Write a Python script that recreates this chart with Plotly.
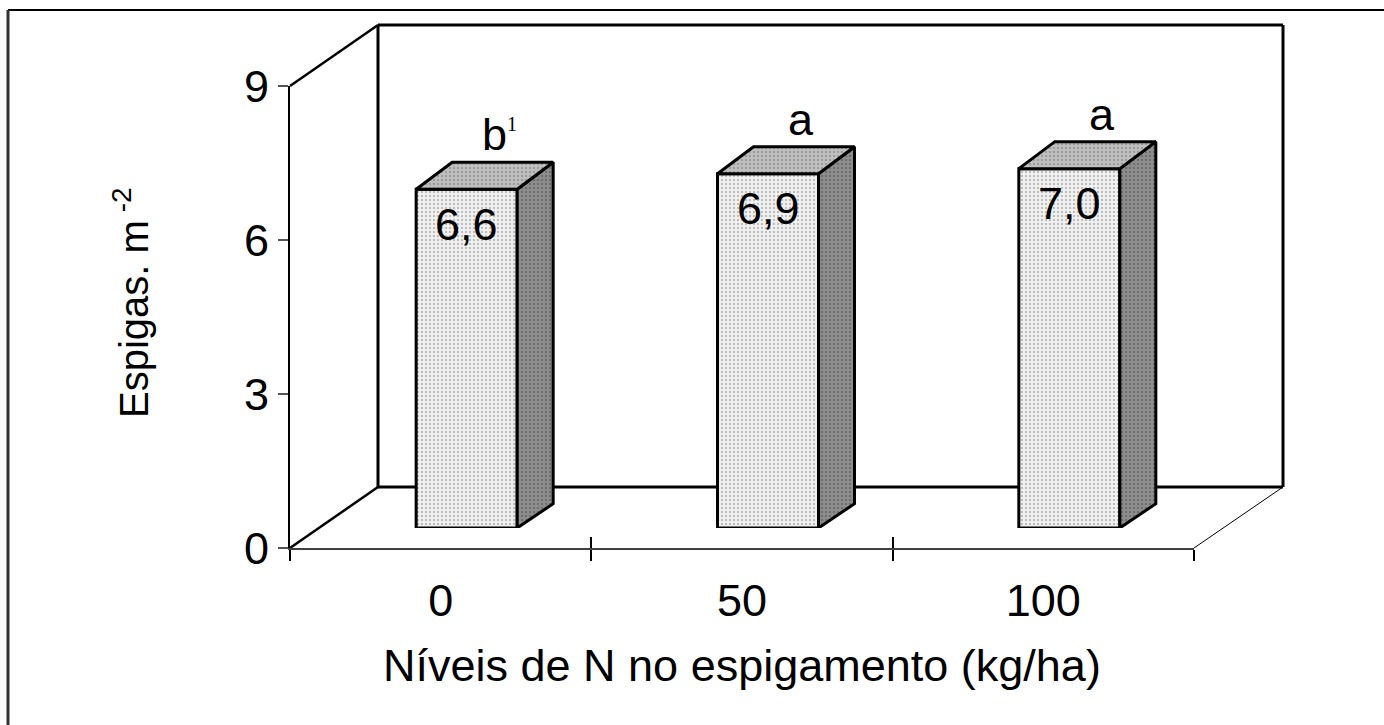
import plotly.graph_objects as go

# ---- data ----
categories = ["0", "50", "100"]
values = [6.6, 6.9, 7.0]
value_labels = ["6,6", "6,9", "7,0"]
letters = ["b<sup><span style='font-size:20px;font-family:Liberation Serif'>1</span></sup>", "a", "a"]
y_ticks = [0, 3, 6, 9]
x_title = "Níveis de N no espigamento (kg/ha)"
y_title = "Espigas. m<sup> -2</sup>"

# ---- geometry (pixels of the plotting region) ----
W, H = 1384, 725
L, R, T, B = 290, 1283, 25, 548
PW, PH = R - L, B - T


def px(x):
    return (x - L) / PW


def py(y):
    return (B - y) / PH


front_right = 1194
front_top = 86
wall_left = 378
wall_bottom = 487
bar_off_x, bar_off_y = 26, 20       # bar front plane offset (px)
side_dx_px, side_dy_px = 36, 27     # bar depth (px)

pos = list(range(len(categories)))
xrange_ = [-0.5, len(categories) - 0.5]
yrange_ = [0, 9]
px_per_x = (front_right - L) / (xrange_[1] - xrange_[0])
px_per_y = (B - front_top) / (yrange_[1] - yrange_[0])
bar_w = 101 / px_per_x
ddx = side_dx_px / px_per_x
ddy = side_dy_px / px_per_y
boundaries = [p - 0.5 for p in pos] + [pos[-1] + 0.5]

FONT = "Liberation Sans, Arial, sans-serif"
FS = 45

fig = go.Figure()

# invisible traces so that the front axes exist
fig.add_trace(go.Scatter(x=[0], y=[0], xaxis="x", yaxis="y", mode="markers",
                         marker=dict(opacity=0), hoverinfo="skip", showlegend=False))
fig.add_trace(go.Scatter(x=[0], y=[0], xaxis="x3", yaxis="y", mode="markers",
                         marker=dict(opacity=0), hoverinfo="skip", showlegend=False))

fig.add_trace(go.Bar(
    x=pos, y=values, width=bar_w, xaxis="x2", yaxis="y2",
    marker=dict(color="#e6e6e6", line=dict(color="black", width=3),
                pattern=dict(shape=".", fgcolor="#8a8a8a", bgcolor="#f2f2f2",
                             size=4, solidity=0.3)),
    hoverinfo="skip", showlegend=False,
))

for i, v in zip(pos, values):
    xl, xr = i - bar_w / 2, i + bar_w / 2
    # side face
    fig.add_trace(go.Scatter(
        x=[xr, xr + ddx, xr + ddx, xr, xr],
        y=[0, ddy * 0.9, v + ddy, v, 0],
        fill="toself", mode="lines", xaxis="x2", yaxis="y2",
        line=dict(color="black", width=3),
        fillcolor="#7c7c7c",
        fillpattern=dict(shape=".", fgcolor="#505050", bgcolor="#8e8e8e",
                         size=4, solidity=0.3),
        hoverinfo="skip", showlegend=False,
    ))
    # top face
    fig.add_trace(go.Scatter(
        x=[xl, xr, xr + ddx, xl + ddx, xl],
        y=[v, v, v + ddy, v + ddy, v],
        fill="toself", mode="lines", xaxis="x2", yaxis="y2",
        line=dict(color="black", width=3),
        fillcolor="#ababab",
        fillpattern=dict(shape=".", fgcolor="#7a7a7a", bgcolor="#c0c0c0",
                         size=4, solidity=0.3),
        hoverinfo="skip", showlegend=False,
    ))

annotations = []
for i, v, t in zip(pos, values, value_labels):
    annotations.append(dict(x=i, y=v, xref="x2", yref="y2", text=t, showarrow=False,
                            yanchor="middle", yshift=-35,
                            font=dict(family=FONT, size=FS, color="black")))
for i, v, t in zip(pos, values, letters):
    annotations.append(dict(x=i + 0.11, y=v + ddy, xref="x2", yref="y2", text=t,
                            showarrow=False, yanchor="bottom", yshift=0,
                            font=dict(family=FONT, size=FS, color="black")))
annotations.append(dict(x=0.5, xref="x domain", y=py(665), yref="paper", text=x_title,
                        showarrow=False, yanchor="middle",
                        font=dict(family=FONT, size=FS, color="black")))
annotations.append(dict(x=px(131), xref="paper", y=py(303), yref="paper", text=y_title,
                        showarrow=False, textangle=-90, xanchor="center", yanchor="middle",
                        font=dict(family=FONT, size=40, color="black")))

shapes = []
wl, wb = px(wall_left), py(wall_bottom)
ft = py(front_top)
fr = px(front_right)
for (x0, y0, x1, y1, w) in [
    (wl, wb, wl, 1, 3), (wl, 1, 1, 1, 3), (1, 1, 1, wb, 3), (wl, wb, 1, wb, 3),
    (0, ft, wl, 1, 2.5), (0, 0, wl, wb, 2.5), (fr, 0, 1, wb, 1),
]:
    shapes.append(dict(type="line", xref="paper", yref="paper", x0=x0, y0=y0, x1=x1, y1=y1,
                       line=dict(color="black", width=w), layer="below"))
# outer frame (top and left)
shapes.append(dict(type="line", xref="paper", yref="paper", x0=px(8), y0=py(10), x1=px(1384),
                   y1=py(10), line=dict(color="black", width=2)))
shapes.append(dict(type="line", xref="paper", yref="paper", x0=px(8), y0=py(10), x1=px(8),
                   y1=py(725), line=dict(color="#333333", width=3)))

fig.update_layout(
    width=W, height=H,
    margin=dict(l=L, r=W - R, t=T, b=H - B, pad=0, autoexpand=False),
    paper_bgcolor="white", plot_bgcolor="rgba(0,0,0,0)",
    showlegend=False,
    xaxis=dict(domain=[0, fr], range=xrange_, tickvals=pos, ticktext=categories,
               ticks="", showline=True, linecolor="#404040", linewidth=2,
               showgrid=False, zeroline=False, ticklabelstandoff=12, automargin=False,
               tickfont=dict(family=FONT, size=FS, color="black"),
               minor=dict(tickvals=boundaries, ticks="outside", ticklen=11,
                          tickwidth=1.5, tickcolor="black", showgrid=False),
               anchor="y", fixedrange=True),
    xaxis3=dict(overlaying="x", anchor="y", range=xrange_, tickvals=boundaries,
                ticks="inside", ticklen=11, tickwidth=1.5, tickcolor="black",
                showticklabels=False, showline=False, showgrid=False, zeroline=False,
                automargin=False, fixedrange=True),
    yaxis=dict(domain=[0, ft], range=yrange_, tickvals=y_ticks, ticks="outside", ticklen=10,
               tickwidth=1.5, tickcolor="#555555", showline=True, linecolor="black",
               linewidth=2, showgrid=False, zeroline=False, automargin=False,
               tickfont=dict(family=FONT, size=FS, color="black"), anchor="x",
               fixedrange=True),
    xaxis2=dict(domain=[px(L + bar_off_x), px(front_right + bar_off_x)], range=xrange_,
                visible=False, anchor="y2", fixedrange=True, automargin=False),
    yaxis2=dict(domain=[py(B - bar_off_y), py(front_top - bar_off_y)], range=yrange_,
                visible=False, anchor="x2", fixedrange=True, automargin=False),
    annotations=annotations,
    shapes=shapes,
)

fig.write_html("out.html")
